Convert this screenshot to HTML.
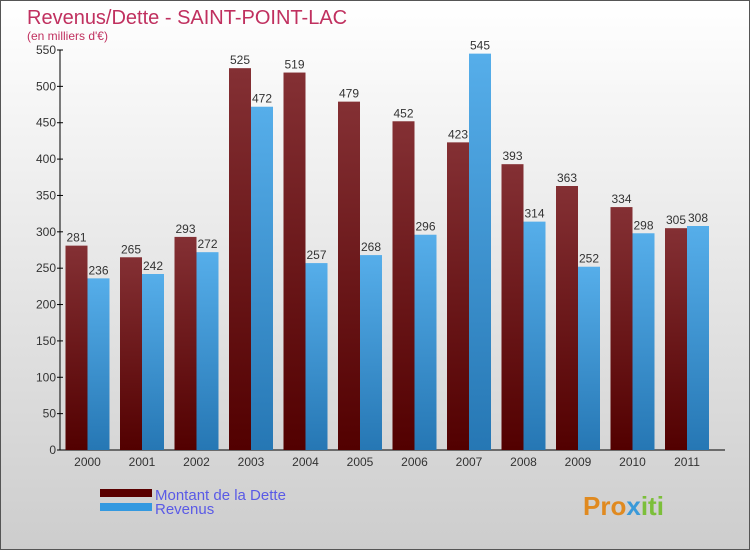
<!DOCTYPE html>
<html><head><meta charset="utf-8"><style>
body{margin:0;width:750px;height:550px;overflow:hidden;font-family:"Liberation Sans",sans-serif}
</style></head><body>
<svg width="750" height="550" xmlns="http://www.w3.org/2000/svg">
<defs>
<linearGradient id="bg" x1="0" y1="0" x2="0" y2="1"><stop offset="0" stop-color="#ffffff"/><stop offset="1" stop-color="#cdcdcd"/></linearGradient>
<linearGradient id="gd" x1="0" y1="0" x2="0" y2="1"><stop offset="0" stop-color="#843034"/><stop offset="1" stop-color="#520000"/></linearGradient>
<linearGradient id="gr" x1="0" y1="0" x2="0" y2="1"><stop offset="0" stop-color="#56aeea"/><stop offset="1" stop-color="#2677b4"/></linearGradient>
</defs>
<rect x="0.5" y="0.5" width="749" height="549" fill="url(#bg)" stroke="#555"/>
<text x="27" y="24" font-size="20" fill="#c0305f">Revenus/Dette - SAINT-POINT-LAC</text>
<text x="27" y="40" font-size="12" fill="#c0305f">(en milliers d'€)</text>
<g id="plot"></g>
<g>
<rect x="100" y="489" width="52" height="8" fill="#5a0000"/>
<text x="155" y="500" font-size="15" fill="#5a5ae6">Montant de la Dette</text>
<rect x="100" y="503" width="52" height="8" fill="#3399e0"/>
<text x="155" y="514" font-size="15" fill="#5a5ae6">Revenus</text>
</g>
<text x="583" y="515" font-size="26" font-weight="bold" fill="#e08a20">Pro<tspan fill="#3a9ad9">x</tspan><tspan fill="#7cbf3a">iti</tspan></text>
</svg>
<script>
const years=["2000","2001","2002","2003","2004","2005","2006","2007","2008","2009","2010","2011"];
const dette=[281,265,293,525,519,479,452,423,393,363,334,305];
const revenus=[236,242,272,472,257,268,296,545,314,252,298,308];
const ticks=[0,50,100,150,200,250,300,350,400,450,500,550];
const NS="http://www.w3.org/2000/svg";
const g=document.getElementById('plot');
const y0=450,yTop=50,vMax=550,x0=60,gap=54.5,first=65.5,bw=22;
const Y=v=>y0-(v/vMax)*(y0-yTop);
const X=i=>first+i*gap;
function mk(t,a){const e=document.createElementNS(NS,t);for(const k in a)e.setAttribute(k,a[k]);g.appendChild(e);return e;}
let ax=mk('line',{x1:x0,y1:yTop,x2:x0,y2:y0,stroke:'#000'});


let bx=mk('line',{x1:x0,y1:y0,x2:725,y2:y0,stroke:'#000'});


ticks.forEach(t=>{
 const tl=mk('line',{x1:x0-3,y1:Y(t),x2:x0+3,y2:Y(t),stroke:'#000'});
 
 
 const tx=mk('text',{x:x0-4,y:Y(t)+4,'font-size':12,fill:'#333','text-anchor':'end'});
 tx.textContent=t;
 
 
});
years.forEach((yr,i)=>{
 const x=X(i);
 const a=mk('rect',{x:x,y:Y(dette[i]),width:bw,height:y0-Y(dette[i]),fill:'url(#gd)'});
 
 
 const b=mk('rect',{x:x+bw,y:Y(revenus[i]),width:bw,height:y0-Y(revenus[i]),fill:'url(#gr)'});
 
 
 const la=mk('text',{x:x+bw/2,y:Y(dette[i])-4,'font-size':12,fill:'#333','text-anchor':'middle'});
 la.textContent=dette[i];
 
 
 const lb=mk('text',{x:x+bw*1.5,y:Y(revenus[i])-4,'font-size':12,fill:'#333','text-anchor':'middle'});
 lb.textContent=revenus[i];
 
 
 const xl=mk('text',{x:x+bw,y:466,'font-size':12,fill:'#333','text-anchor':'middle'});
 xl.textContent=yr;
 
 
});
</script>
</body></html>
